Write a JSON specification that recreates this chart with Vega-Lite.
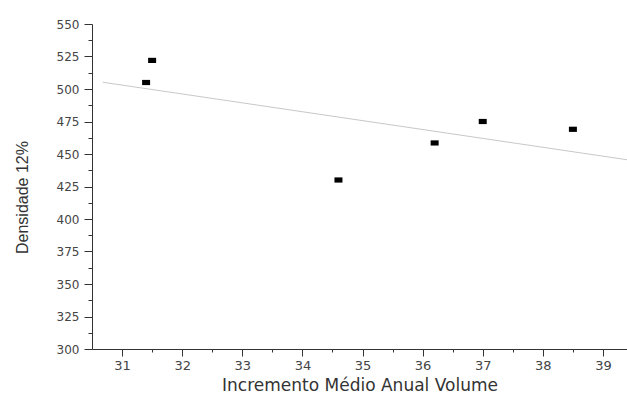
{
  "$schema": "https://vega.github.io/schema/vega-lite/v6.json",
  "width": 535,
  "height": 325,
  "padding": {"left": 92, "top": 24, "right": 0, "bottom": 49},
  "autosize": {"type": "none"},
  "background": "white",
  "config": {
    "view": {"stroke": null},
    "axis": {"grid": false, "domainColor": "#333", "tickColor": "#333", "labelColor": "#444", "titleColor": "#333", "labelFont": "DejaVu Sans", "titleFont": "DejaVu Sans", "titleFontWeight": "normal", "labelOverlap": false, "labelFlush": false}
  },
  "resolve": {"axis": {"x": "independent", "y": "independent"}},
  "layer": [
    {
      "data": {"values": [
        {"x": 31.4, "y": 505},
        {"x": 31.5, "y": 522},
        {"x": 34.6, "y": 430},
        {"x": 36.2, "y": 458.5},
        {"x": 37.0, "y": 475},
        {"x": 38.5, "y": 469}
      ]},
      "mark": {"type": "point", "shape": "M-1,-0.65H1V0.65H-1Z", "size": 64, "color": "#000", "opacity": 1, "filled": true},
      "encoding": {
        "x": {"field": "x", "type": "quantitative", "scale": {"domain": [30.5, 39.4], "nice": false, "zero": false},
          "axis": {"orient": "bottom", "values": [31, 32, 33, 34, 35, 36, 37, 38, 39], "format": "d",
            "tickSize": 7, "labelFontSize": 13, "labelPadding": 3,
            "title": "Incremento Médio Anual Volume", "titleFontSize": 17, "titlePadding": 5}},
        "y": {"field": "y", "type": "quantitative", "scale": {"domain": [300, 550], "nice": false, "zero": false},
          "axis": {"orient": "left", "values": [300, 325, 350, 375, 400, 425, 450, 475, 500, 525, 550], "format": "d",
            "tickSize": 8, "labelFontSize": 12, "labelPadding": 5,
            "title": "Densidade 12%", "titleFont": "Liberation Sans", "titleFontSize": 16,
            "titleX": -70, "titleY": 173, "titleAngle": -90, "titleAlign": "center", "titleBaseline": "middle"}}
      }
    },
    {
      "data": {"values": [
        {"x": 30.68, "y": 505.2},
        {"x": 39.4, "y": 445.6}
      ]},
      "mark": {"type": "line", "color": "#c8c8c8", "strokeWidth": 1},
      "encoding": {
        "x": {"field": "x", "type": "quantitative",
          "axis": {"orient": "bottom", "values": [31.5, 32.5, 33.5, 34.5, 35.5, 36.5, 37.5, 38.5], "labels": false, "domain": false, "tickSize": 3, "title": null}},
        "y": {"field": "y", "type": "quantitative",
          "axis": {"orient": "left", "values": [312.5, 337.5, 362.5, 387.5, 412.5, 437.5, 462.5, 487.5, 512.5, 537.5], "labels": false, "domain": false, "tickSize": 4, "title": null}}
      }
    }
  ]
}
